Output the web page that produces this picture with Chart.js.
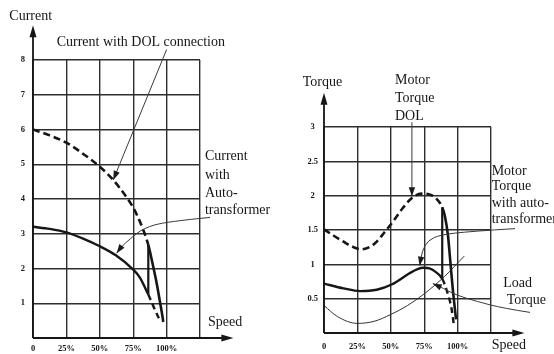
<!DOCTYPE html>
<html>
<head>
<meta charset="utf-8">
<script src="https://cdn.jsdelivr.net/npm/chart.js@4.4.0/dist/chart.umd.min.js"></script>
<style>
  html, body { margin: 0; padding: 0; background: #fff; }
  #wrap { position: relative; width: 554px; height: 354px; }
  #wrap canvas { position: absolute; left: 0; top: 0; }
</style>
</head>
<body>
<div id="wrap">
  <canvas id="currentChart" width="554" height="354"></canvas>
  <canvas id="torqueChart" width="554" height="354"></canvas>
</div>
<script>
// ===========================================
// DATA (speed in % of synchronous speed)
// ===========================================

// Left: current vs speed
const currentSpeedDol = [0, 12.5, 25, 37.5, 50, 60, 70, 75, 80, 86.3, 90, 92.6, 95, 97, 97.5];
const currentDol      = [6.0, 5.83, 5.62, 5.3, 4.93, 4.55, 4.05, 3.75, 3.35, 2.68, 2.05, 1.57, 1.05, 0.6, 0.46];
const currentSpeedAuto = [0, 12.5, 25, 37.5, 50, 62, 75, 80, 86.3, 90.5, 95];
const currentAuto      = [3.2, 3.14, 3.04, 2.86, 2.64, 2.38, 1.97, 1.74, 1.25, 0.88, 0.5];
const currentSwitchSpeed = [86.3, 86.3];
const currentSwitch      = [1.25, 2.68];
const currentTicks = [0, 1, 2, 3, 4, 5, 6, 7, 8];

// Right: torque vs speed
const torqueSpeedDol = [0, 7, 14.6, 21, 28, 34, 39.5, 45, 51.6, 59, 66, 73, 80, 84, 88.5, 90.5, 92.8, 94.2, 96.3, 98.8];
const torqueDol      = [1.51, 1.42, 1.33, 1.26, 1.22, 1.25, 1.33, 1.46, 1.62, 1.82, 1.97, 2.03, 2.01, 1.96, 1.83, 1.7, 1.42, 1.12, 0.66, 0.2];
const torqueSpeedAuto = [0, 14.6, 27, 39.5, 51, 64, 70, 74.4, 79, 83.5, 88.5, 92.2, 95.4, 97.2];
const torqueAuto      = [0.72, 0.65, 0.61, 0.63, 0.71, 0.87, 0.93, 0.95, 0.94, 0.89, 0.79, 0.6, 0.36, 0.12];
const torqueSpeedLoad = [0, 10, 25, 37.5, 50, 62.5, 75, 90, 105];
const torqueLoad      = [0.4, 0.24, 0.14, 0.17, 0.27, 0.4, 0.57, 0.82, 1.12];
const torqueSwitchSpeed = [88.5, 88.5];
const torqueSwitch      = [0.79, 1.83];
const torqueTicks = [0, 0.5, 1, 1.5, 2, 2.5, 3];

const speedTicks = [0, 25, 50, 75, 100, 125];

// ===========================================
// ANNOTATIONS (placed in data units)
// ===========================================
const currentNotes = [
  { text: 'Current', x: -17.7, y: 9.25 },
  { text: 'Speed', x: 131, y: 0.46 },
  { text: 'Current with DOL connection', x: 17.7, y: 8.5 },
  { text: 'Current', x: 128.7, y: 5.22 },
  { text: 'with', x: 128.7, y: 4.69 },
  { text: 'Auto-', x: 128.7, y: 4.16 },
  { text: 'transformer', x: 128.7, y: 3.66 }
];
const currentArrows = [
  [[100, 8.3], [60.1, 4.55]],
  [[132.5, 3.47], [100, 3.35], [82.6, 3.16], [72.6, 2.85], [66, 2.62], [62.6, 2.44]]
];

const torqueNotes = [
  { text: 'Torque', x: -15.9, y: 3.65 },
  { text: 'Speed', x: 125.5, y: -0.185 },
  { text: 'Motor', x: 53.1, y: 3.68 },
  { text: 'Torque', x: 53.1, y: 3.42 },
  { text: 'DOL', x: 53.1, y: 3.16 },
  { text: 'Motor', x: 125.5, y: 2.36 },
  { text: 'Torque', x: 125.5, y: 2.13 },
  { text: 'with auto-', x: 125.5, y: 1.89 },
  { text: 'transformer', x: 125.5, y: 1.65 },
  { text: 'Load', x: 134.2, y: 0.72 },
  { text: 'Torque', x: 136.7, y: 0.48 }
];
const torqueArrows = [
  [[65.8, 3.07], [65.8, 1.99]],
  [[143, 1.52], [109.5, 1.48], [87, 1.43], [78, 1.35], [73.5, 1.2], [71.6, 0.98]],
  [[154.2, 0.3], [134.2, 0.36], [114.3, 0.46], [99.3, 0.55], [89.3, 0.65], [81.4, 0.72]]
];

// ===========================================
// HELPERS
// ===========================================
const ink = '#161616';
const serif = '"Liberation Serif", "DejaVu Serif", serif';

function toPoints(xs, ys) {
  return xs.map((x, i) => ({ x: x, y: ys[i] }));
}

function arrowHead(ctx, x0, y0, x1, y1, len, half) {
  const a = Math.atan2(y1 - y0, x1 - x0);
  const c = Math.cos(a), s = Math.sin(a);
  ctx.beginPath();
  ctx.moveTo(x1, y1);
  ctx.lineTo(x1 - len * c + half * s, y1 - len * s - half * c);
  ctx.lineTo(x1 - len * c - half * s, y1 - len * s + half * c);
  ctx.closePath();
  ctx.fill();
}

// draws the arrowed axes, pointer arrows and the text labels
function makeSketch(xTip, yTip, arrows, notes) {
  return {
    id: 'sketch',
    afterDraw(chart) {
      const ctx = chart.ctx;
      const px = v => chart.scales.x.getPixelForValue(v);
      const py = v => chart.scales.y.getPixelForValue(v);
      ctx.save();
      ctx.strokeStyle = ink;
      ctx.fillStyle = ink;

      // axes
      const ox = px(0), oy = py(0);
      const tx = px(xTip), ty = py(yTip);
      ctx.lineWidth = 1.8;
      ctx.beginPath();
      ctx.moveTo(ox, oy); ctx.lineTo(tx - 4, oy);
      ctx.moveTo(ox, oy); ctx.lineTo(ox, ty + 4);
      ctx.stroke();
      arrowHead(ctx, ox, oy, tx, oy, 12, 3.5);
      arrowHead(ctx, ox, oy, ox, ty, 12, 3.5);

      // pointer arrows
      ctx.lineWidth = 1;
      ctx.strokeStyle = '#3a3a3a';
      ctx.fillStyle = '#1a1a1a';
      arrows.forEach(path => {
        const p = path.map(pt => [px(pt[0]), py(pt[1])]);
        const n = p.length;
        ctx.beginPath();
        ctx.moveTo(p[0][0], p[0][1]);
        for (let i = 1; i < n - 1; i++) {
          const mx = (p[i][0] + p[i + 1][0]) / 2;
          const my = (p[i][1] + p[i + 1][1]) / 2;
          ctx.quadraticCurveTo(p[i][0], p[i][1], mx, my);
        }
        ctx.lineTo(p[n - 1][0], p[n - 1][1]);
        ctx.stroke();
        arrowHead(ctx, p[n - 2][0], p[n - 2][1], p[n - 1][0], p[n - 1][1], 9, 3.2);
      });

      // texts
      ctx.fillStyle = ink;
      ctx.font = '14px ' + serif;
      ctx.textAlign = 'left';
      ctx.textBaseline = 'middle';
      notes.forEach(n => ctx.fillText(n.text, px(n.x), py(n.y)));
      ctx.restore();
    }
  };
}

function curve(points, width, dashAfter, dashBefore) {
  return {
    data: points,
    showLine: true,
    borderColor: ink,
    borderWidth: width,
    pointRadius: 0,
    cubicInterpolationMode: 'monotone',
    segment: {
      borderDash: c => {
        if (dashBefore != null && c.p0.parsed.x < dashBefore) return [7, 4];
        if (dashAfter != null && c.p0.parsed.x >= dashAfter) return [6, 4];
        return undefined;
      }
    }
  };
}

function straight(points) {
  return {
    data: points,
    showLine: true,
    borderColor: ink,
    borderWidth: 2.2,
    pointRadius: 0,
    tension: 0
  };
}

function makeScales(yTicks, yStep, padX, padY) {
  const tickFont = { family: serif, size: 8.5, weight: 'bold' };
  return {
    x: {
      type: 'linear',
      min: speedTicks[0],
      max: speedTicks[speedTicks.length - 1],
      afterBuildTicks: s => { s.ticks = speedTicks.map(v => ({ value: v })); },
      afterFit: s => { s.height = padY; },
      grid: { color: '#2e2e2e', lineWidth: 1.4, drawTicks: false },
      border: { display: false },
      ticks: {
        color: ink,
        font: tickFont,
        padding: padX,
        maxRotation: 0,
        autoSkip: false,
        callback: v => (v === 0 ? '0' : v > 100 ? '' : v + '%')
      }
    },
    y: {
      type: 'linear',
      min: yTicks[0],
      max: yTicks[yTicks.length - 1],
      afterBuildTicks: s => { s.ticks = yTicks.map(v => ({ value: v })); },
      afterFit: s => { s.width = 20; },
      grid: { color: '#2e2e2e', lineWidth: 1.4, drawTicks: false },
      border: { display: false },
      ticks: {
        color: ink,
        font: tickFont,
        padding: yStep,
        crossAlign: 'center',
        autoSkip: false,
        callback: v => (v === 0 ? '' : String(v))
      }
    }
  };
}

const commonPlugins = {
  legend: { display: false },
  tooltip: { enabled: false }
};

// ===========================================
// LEFT CHART: CURRENT
// ===========================================
new Chart(document.getElementById('currentChart'), {
  type: 'scatter',
  data: {
    datasets: [
      curve(toPoints(currentSpeedDol, currentDol), 2.6, null, currentSwitchSpeed[0]),
      curve(toPoints(currentSpeedAuto, currentAuto), 2.4, currentSwitchSpeed[0], null),
      straight(toPoints(currentSwitchSpeed, currentSwitch))
    ]
  },
  options: {
    responsive: false,
    animation: false,
    layout: { padding: { left: 13, right: 354, top: 60, bottom: 0 } },
    scales: makeScales(currentTicks, 8, 6, 16),
    plugins: commonPlugins
  },
  plugins: [makeSketch(150, 9, currentArrows, currentNotes)]
});

// ===========================================
// RIGHT CHART: TORQUE
// ===========================================
new Chart(document.getElementById('torqueChart'), {
  type: 'scatter',
  data: {
    datasets: [
      curve(toPoints(torqueSpeedDol, torqueDol), 2.6, null, torqueSwitchSpeed[0]),
      curve(toPoints(torqueSpeedAuto, torqueAuto), 2.4, torqueSwitchSpeed[0], null),
      Object.assign(curve(toPoints(torqueSpeedLoad, torqueLoad), 1, null, null), { borderColor: '#333' }),
      straight(toPoints(torqueSwitchSpeed, torqueSwitch))
    ]
  },
  options: {
    responsive: false,
    animation: false,
    layout: { padding: { left: 304, right: 63, top: 127, bottom: 0 } },
    scales: makeScales(torqueTicks, 6, 9, 21),
    plugins: commonPlugins
  },
  plugins: [makeSketch(150, 3.5, torqueArrows, torqueNotes)]
});
</script>
</body>
</html>
